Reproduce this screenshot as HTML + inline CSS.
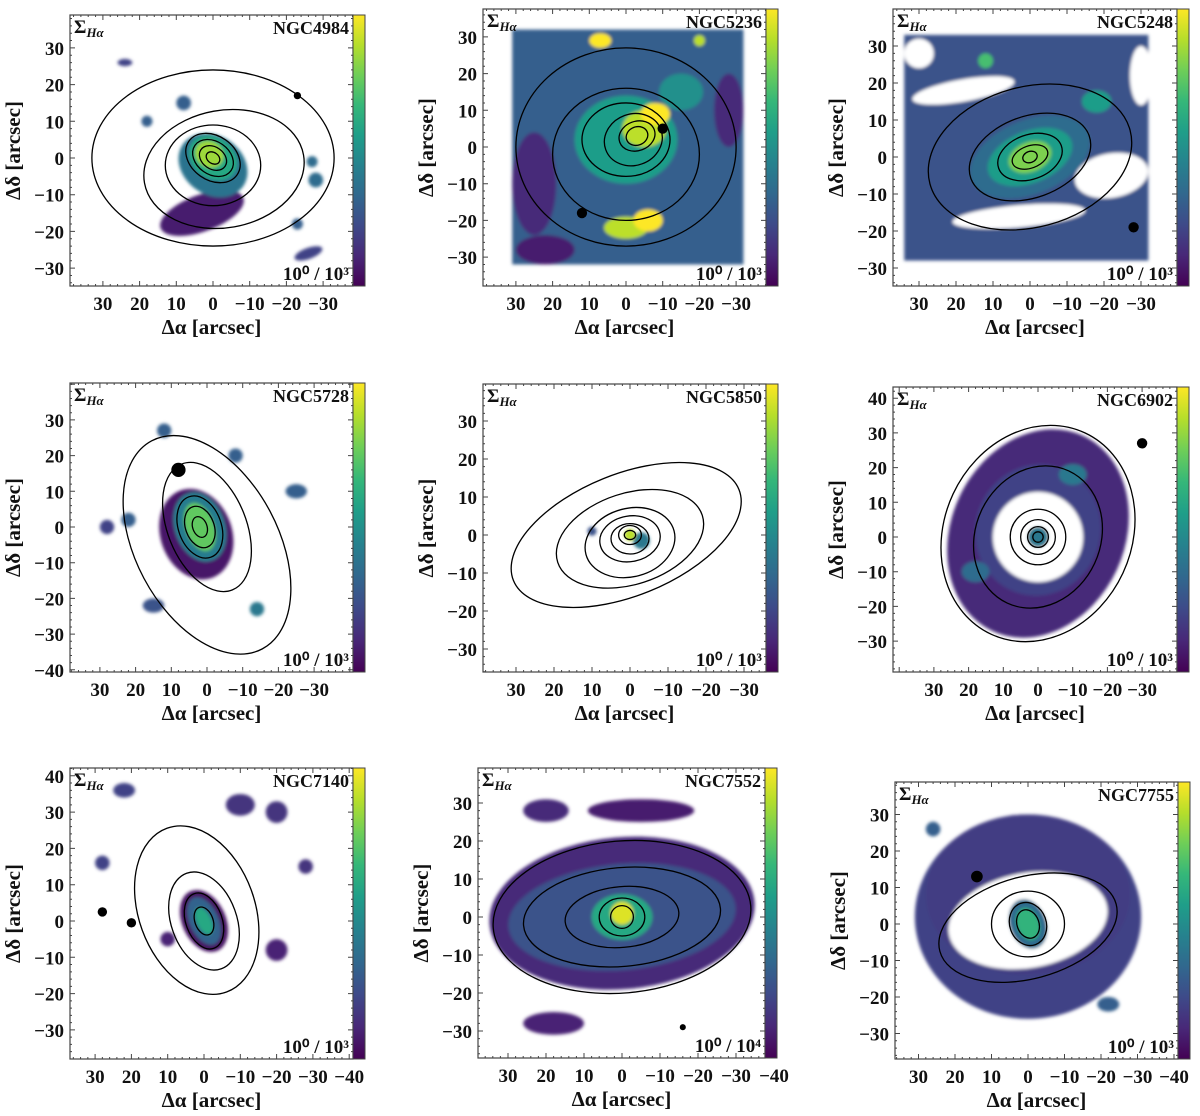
<!DOCTYPE html>
<html><head><meta charset="utf-8"><style>
html,body{margin:0;padding:0;background:#fff}
svg{display:block}
text{font-family:"Liberation Serif",serif;font-weight:bold;fill:#111}
</style></head><body>
<svg id="fig" width="1200" height="1116" viewBox="0 0 1200 1116"></svg>
<script>
// ---- data ----
const galaxyNames = ["NGC4984","NGC5236","NGC5248","NGC5728","NGC5850","NGC6902","NGC7140","NGC7552","NGC7755"];
const scaleLabels = ["10\u2070 / 10\u00b3","10\u2070 / 10\u00b3","10\u2070 / 10\u00b3","10\u2070 / 10\u00b3","10\u2070 / 10\u00b3","10\u2070 / 10\u00b3","10\u2070 / 10\u00b3","10\u2070 / 10\u2074","10\u2070 / 10\u00b3"];
const xTicksA = [30,20,10,0,-10,-20,-30];
const xTicksB = [30,20,10,0,-10,-20,-30,-40];
const yTicksA = [30,20,10,0,-10,-20,-30];
const yTicksB = [30,20,10,0,-10,-20,-30,-40];
const yTicksC = [40,30,20,10,0,-10,-20,-30];
// fill regions: [x1,y1,x2,y2,value]
const rects = [
 [], [[31,32,-32,-32,0.3]], [[34,33,-32,-28,0.25]], [], [], [], [], [], []
];
// [x,y,rx,ry,rot,value] (value 0..1 viridis, -1 = blank)
const regions = [
 [[3,-15,12,5,-20,0.08],[0,-2,10,8,35,0.38],[0,0,7,5.5,35,0.6],[1,1,4,3.5,35,0.85],[-23,-18,1.5,1.5,0,0.3],[-28,-6,2,2,0,0.35],[-26,-26,4,1.5,-20,0.2],[24,26,2,1,0,0.2],[8,15,2,2,0,0.3],[-27,-1,1.5,1.5,0,0.35],[18,10,1.5,1.5,0,0.3]],
 [[25,-10,6,14,0,0.12],[-28,10,4,10,0,0.12],[0,2,14,12,0,0.55],[-5,5,6,5,0,0.9],[-8,9,4,3,0,1],[7,29,3,2,0,1],[-20,29,1.5,1.5,0,0.9],[0,-22,6,3,0,0.9],[-6,-20,4,3,0,1],[22,-28,8,4,0,0.08],[-15,15,6,5,0,0.5]],
 [[18,18,14,3,-10,-1],[30,28,4,4,0,-1],[-22,-5,10,6,-10,-1],[-30,22,3,8,0,-1],[3,-16,18,3,-5,-1],[0,0,17,10,-22,0.35],[0,0,12,7,-22,0.55],[0,0,6,4,-22,0.8],[-18,15,4,3,0,0.55],[12,26,2,2,0,0.7]],
 [[3,-2,10,13,-20,0.06],[2,0,7,10,-20,0.42],[2,0,4,7,-20,0.75],[-14,-23,2,2,0,0.4],[22,2,2,2,0,0.3],[-25,10,3,2,0,0.3],[28,0,2,2,0,0.2],[15,-22,3,2,0,0.25],[-8,20,2,2,0,0.3],[12,27,2,2,0,0.3]],
 [[-3,-1.5,2.2,2.2,0,0.4],[0,0,1.5,1.5,0,0.9],[10,1,1.2,1.2,0,0.25]],
 [[0,1,25,31,25,0.12],[0,2,18,19,20,0.2],[0,0,13,13,0,-1],[0,0,3,3,0,0.4],[-10,18,4,3,0,0.4],[18,-10,4,3,0,0.35]],
 [[0,0,6,9,-25,0.05],[0,0,4,7,-25,0.32],[0,0,2,4,-25,0.6],[22,36,3,2,0,0.2],[-10,32,4,3,0,0.15],[-20,30,3,3,0,0.15],[28,16,2,2,0,0.2],[-20,-8,3,3,0,0.1],[-28,15,2,2,0,0.15],[10,-5,2,2,0,0.1]],
 [[0,1,35,20,-5,0.12],[0,0,30,14,-5,0.25],[0,0,8,6,0,0.6],[0,1,3,3,0,0.95],[-5,28,14,3,0,0.08],[20,28,6,3,0,0.12],[18,-28,8,3,0,0.1]],
 [[0,2,31,28,0,0.2],[0,8,28,22,0,0.18],[0,1,22,13,-10,-1],[0,0,5,7,-20,0.35],[0,0,3,4.5,-20,0.65],[-22,-22,3,2,0,0.3],[26,26,2,2,0,0.3]]
];
// contours: [x,y,rx,ry,rot]
const contours = [
 [[0,0,33,24,0],[-3,-3,22,16,-10],[0,-2,13,11,0],[0,0,8,6,35],[0,0,6,4.5,35],[0,0,4,3,35],[0,0,2,1.5,35]],
 [[0,0,30,27,0],[0,-2,20,18,0],[0,2,12,10,0],[-2,2,8,7,-20],[-3,3,5,4,-20],[-3,3,3,2.5,-20]],
 [[0,0,28,19,-15],[0,0,17,11,-20],[0,0,9,6,-20],[0,0,5,3,-20],[0,0,2,1.5,-20]],
 [[0,-5,20,33,-28],[0,0,11,19,-22],[2,0,6,9,-20],[2,0,4,6,-20],[2,0,2,3,-20]],
 [[1,0,32,16,-22],[0,-1,20,12,-18],[0,-2,12,9,-15],[0,-1,8,6,-10],[0,-1,5,4,0],[0,0,3,2.5,0],[0,0,1.5,1.2,0]],
 [[0,1,27,32,25],[0,0,18,21,25],[0,0,8,8,0],[0,0,5,5,0],[0,0,3,3,0],[0,0,1.5,1.5,0]],
 [[2,3,16,24,-20],[0,0,9,14,-20],[0,0,5,8,-20],[0,0,2.5,4,-20]],
 [[0,0,34,20,-5],[0,0,26,13,-5],[0,0,15,8,-5],[0,0,6,5,0],[0,0,3,3,0]],
 [[0,-1,25,14,-15],[0,0,10,9,0],[0,0,5,6,-20],[0,0,3,4,-20]]
];
const dots = [[[-23,17,1]],[[12,-18,1.4],[-10,5,1.4]],[[-28,-19,1.4]],[[8,16,2]],[],[[-30,27,1.5]],[[20,-0.5,1.3],[28,2.5,1.3]],[[-16,-29,0.8]],[[14,13,1.6]]];
// ---- layout (pixels) ----
const frames = [
 {x:70,y:15,w:283,h:271,cx:213,cy:158,s:3.67,xt:xTicksA,yt:yTicksA},
 {x:483,y:9,w:283,h:277,cx:626,cy:147,s:3.67,xt:xTicksA,yt:yTicksA},
 {x:893,y:9,w:284,h:277,cx:1030,cy:157,s:3.7,xt:xTicksA,yt:yTicksA},
 {x:70,y:383,w:283,h:289,cx:207,cy:527,s:3.57,xt:xTicksA,yt:yTicksB},
 {x:483,y:384,w:283,h:288,cx:630,cy:535,s:3.8,xt:xTicksA,yt:yTicksA},
 {x:893,y:387,w:284,h:285,cx:1038,cy:537,s:3.47,xt:xTicksA,yt:yTicksC},
 {x:70,y:768,w:283,h:291,cx:204,cy:921,s:3.63,xt:xTicksB,yt:yTicksC},
 {x:478,y:768,w:287,h:290,cx:622,cy:917,s:3.8,xt:xTicksB,yt:yTicksA},
 {x:895,y:782,w:283,h:277,cx:1028,cy:924,s:3.65,xt:xTicksB,yt:yTicksA}
];
const VIR=["#440154","#482878","#3e4a89","#31688e","#26828e","#1f9e89","#35b779","#6ece58","#b5de2b","#fde725"];
function vir(t){t=Math.max(0,Math.min(1,t))*(VIR.length-1);const i=Math.min(Math.floor(t),VIR.length-2),f=t-i;
 const a=VIR[i],b=VIR[i+1];const c=k=>Math.round(parseInt(a.substr(k,2),16)*(1-f)+parseInt(b.substr(k,2),16)*f);
 return `rgb(${c(1)},${c(3)},${c(5)})`;}
const NS="http://www.w3.org/2000/svg";const svg=document.getElementById('fig');
function el(tag,attrs,parent){const e=document.createElementNS(NS,tag);for(const k in attrs)e.setAttribute(k,attrs[k]);(parent||svg).appendChild(e);return e;}
const defs=el('defs',{});
const lg=el('linearGradient',{id:'vg',x1:0,y1:1,x2:0,y2:0},defs);
VIR.forEach((c,i)=>el('stop',{offset:i/(VIR.length-1),'stop-color':c},lg));
const bl=el('filter',{id:'soft',x:'-20%',y:'-20%',width:'140%',height:'140%'},defs);
el('feGaussianBlur',{stdDeviation:1.5},bl);

frames.forEach((F,p)=>{
 const X=v=>F.cx-v*F.s, Y=v=>F.cy-v*F.s;
 const g=el('g',{});
 
 
 const cp=el('clipPath',{id:'c'+p},defs);el('rect',{x:F.x,y:F.y,width:F.w,height:F.h},cp);
 const m=el('g',{'clip-path':`url(#c${p})`},g);
 
 
 const fl=el('g',{filter:'url(#soft)'},m);
 rects[p].forEach(r=>{const e=el('rect',{x:X(r[0]),y:Y(r[1]),width:X(r[2])-X(r[0]),height:Y(r[3])-Y(r[1]),fill:vir(r[4])},fl);
  });
 regions[p].forEach(r=>{const e=el('ellipse',{cx:X(r[0]),cy:Y(r[1]),rx:r[2]*F.s,ry:r[3]*F.s,transform:`rotate(${r[4]} ${X(r[0])} ${Y(r[1])})`,fill:r[5]<0?'#fff':vir(r[5])},fl);
  });
 contours[p].forEach(c=>{const e=el('ellipse',{cx:X(c[0]),cy:Y(c[1]),rx:c[2]*F.s,ry:c[3]*F.s,transform:`rotate(${c[4]} ${X(c[0])} ${Y(c[1])})`,fill:'none',stroke:'#000','stroke-width':1.3},m);
  });
 dots[p].forEach(d=>{const e=el('circle',{cx:X(d[0]),cy:Y(d[1]),r:d[2]*F.s,fill:'#000'},m);
  });
 const fr=el('rect',{x:F.x,y:F.y,width:F.w,height:F.h,fill:'none',stroke:'#444','stroke-width':1.2},g);
 
 let tk='';
 for(let v=-50;v<=50;v+=2){const px=X(v),py=Y(v);const L=v%10===0?5:2;
  if(px>F.x&&px<F.x+F.w)tk+=`M${px} ${F.y+F.h}v${-L}M${px} ${F.y}v${L}`;
  if(py>F.y&&py<F.y+F.h)tk+=`M${F.x} ${py}h${L}M${F.x+F.w} ${py}h${-L}`;}
 el('path',{d:tk,stroke:'#444','stroke-width':1,fill:'none'},g);
 F.xt.forEach(v=>{const t=el('text',{x:X(v),y:F.y+F.h+24,'font-size':19,'text-anchor':'middle'},g);t.textContent=v<0?'\u2212'+(-v):v;
  });
 F.yt.forEach(v=>{const t=el('text',{x:F.x-6,y:Y(v)+7,'font-size':19,'text-anchor':'end'},g);t.textContent=v<0?'\u2212'+(-v):v;
  });
 const xl=el('text',{x:F.x+F.w/2,y:F.y+F.h+48,'font-size':21,'text-anchor':'middle'},g);xl.textContent='\u0394\u03b1 [arcsec]';
 
 const yx=F.x-50,yy=F.y+F.h/2;
 const yl=el('text',{x:yx,y:yy,'font-size':21,'text-anchor':'middle',transform:`rotate(-90 ${yx} ${yy})`},g);yl.textContent='\u0394\u03b4 [arcsec]';
 
 const nm=el('text',{x:F.x+F.w-4,y:F.y+19,'font-size':18,'text-anchor':'end'},g);nm.textContent=galaxyNames[p];
 
 const sg=el('text',{x:F.x+4,y:F.y+18,'font-size':19,'font-weight':'normal'},g);sg.innerHTML='\u03a3<tspan font-size="13" font-style="italic" dy="4">H\u03b1</tspan>';
 
 const sl=el('text',{x:F.x+F.w-4,y:F.y+F.h-6,'font-size':19,'font-weight':'normal','text-anchor':'end'},g);sl.textContent=scaleLabels[p];
 
 const cb=el('rect',{x:F.x+F.w,y:F.y,width:12,height:F.h,fill:'url(#vg)',stroke:'#444','stroke-width':1},g);
 
});
</script>
</body></html>
